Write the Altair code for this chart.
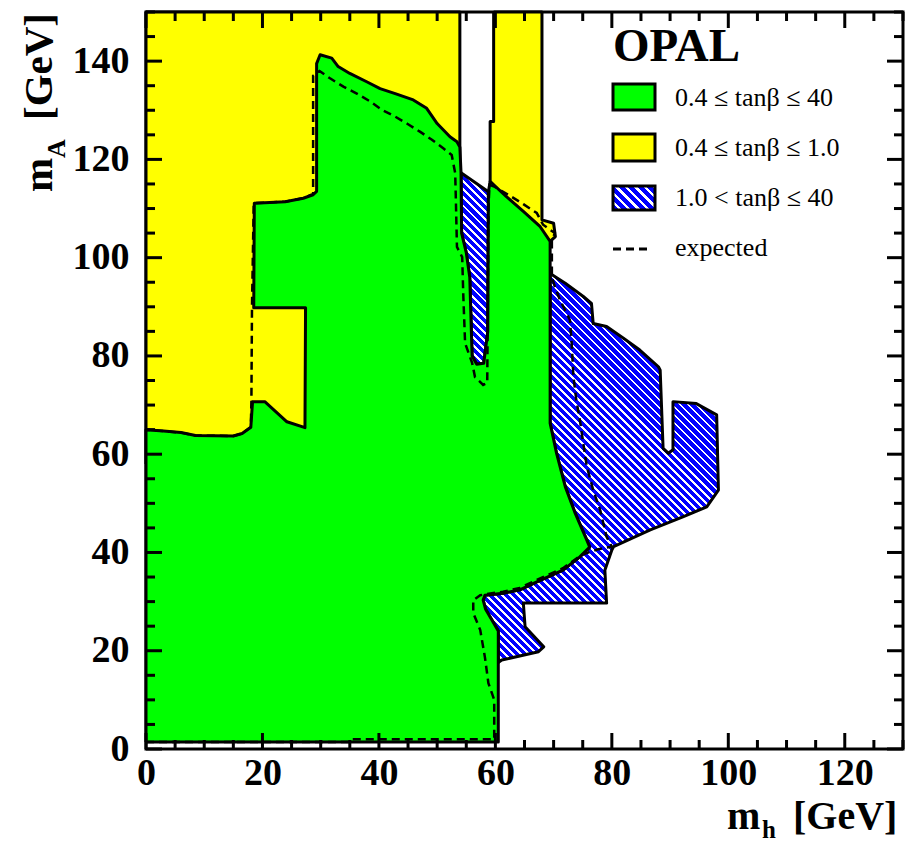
import altair as alt
import pandas as pd

# ---------------- data (GeV) ----------------
X_DOMAIN = [0, 130]
Y_DOMAIN = [0, 150]
X_LABELS = [0, 20, 40, 60, 80, 100, 120]
Y_LABELS = [0, 20, 40, 60, 80, 100, 120, 140]
X_TICKS = list(range(0, 131, 5))
Y_TICKS = list(range(0, 151, 5))

LEGEND_TITLE = "OPAL"
LEGEND_LABELS = ["0.4 \u2264 tan\u03b2 \u2264  40", "0.4 \u2264 tan\u03b2 \u2264 1.0",
                 "1.0 < tan\u03b2 \u2264  40", "expected"]

# yellow: 0.4 <= tanb <= 1.0 (left block and right strip)
yellow_left = [(0, 58), (0, 150), (53.9, 150), (53.9, 118), (27.4, 100), (27.4, 60)]
yellow_right = [(59.7, 150), (68.0, 150), (68.0, 107.7), (70.0, 107.0), (70.3, 104.3),
                (69.4, 103.3), (59.1, 115.5), (59.1, 127.7), (59.7, 127.7)]

# green: 0.4 <= tanb <= 40
green_region = [
    (0, 1.4), (0, 65.0), (3, 64.7), (6, 64.4), (8.5, 63.8), (15, 63.7), (16.5, 64.2),
    (18, 65.5), (18.3, 70.7), (20.4, 70.7), (24.2, 66.6), (27.3, 65.4), (27.4, 89.8),
    (18.5, 89.8), (18.6, 111.1), (23.9, 111.4), (27.0, 112.1), (28.7, 112.8), (29.3, 113.5),
    (29.3, 139.5), (29.9, 141.3), (31.9, 140.6), (33.0, 138.9), (35.0, 137.5), (37.9, 135.8),
    (40.2, 134.4), (42.8, 133.4), (45.9, 132.1), (48.2, 130.4), (50.0, 127.3), (52.2, 124.6),
    (53.4, 123.6), (53.9, 122.5), (54.1, 117.3), (54.2, 105.0), (55.0, 101.0), (55.6, 96.0),
    (56.0, 80.0), (56.8, 78.3), (58.0, 78.5), (58.7, 85.0), (58.8, 113.4), (59.1, 115.5),
    (61.9, 112.4), (64.8, 109.4), (67.7, 106.3), (69.4, 103.3), (69.4, 66.3), (70.5, 60.2),
    (72.0, 53.4), (73.7, 48.0), (75.7, 42.5), (76.2, 41.1), (74.5, 39.1), (71.6, 36.4),
    (67.1, 34.0), (64.2, 32.4), (61.3, 31.7), (58.2, 31.3), (57.9, 30.3), (58.3, 28.5),
    (60.5, 24.0), (60.5, 1.4)]

# blue hatched: 1.0 < tanb <= 40
blue_strip = [(54.1, 117.3), (58.8, 113.4), (58.7, 85.0), (58.0, 78.5), (56.8, 78.3),
              (56.0, 80.0), (55.6, 96.0), (55.0, 101.0), (54.2, 105.0)]
blue_big = [
    (69.4, 96.8), (72.0, 94.8), (75.1, 92.1), (76.5, 90.7), (76.8, 86.6), (79.1, 86.0),
    (82.0, 83.6), (84.8, 81.2), (88.0, 77.8), (88.3, 77.1), (88.8, 61.2), (89.7, 60.2),
    (90.5, 60.9), (90.5, 70.7), (94.5, 70.3), (98.0, 68.0), (98.3, 52.7), (96.3, 49.3),
    (92.3, 47.3), (86.6, 44.6), (80.3, 41.2), (80.0, 40.5), (78.8, 36.4), (79.1, 29.7),
    (64.8, 29.7), (65.1, 24.9), (68.3, 20.8), (67.4, 19.8), (61.1, 18.1), (60.5, 17.6),
    (60.5, 24.0), (58.3, 28.5), (57.9, 30.3), (58.2, 31.3), (61.3, 31.7), (64.2, 32.4),
    (67.1, 34.0), (71.6, 36.4), (74.5, 39.1), (76.2, 41.1), (75.7, 42.5), (73.7, 48.0),
    (72.0, 53.4), (70.5, 60.2), (69.4, 66.3)]

# expected limit (dashed)
expected_limit = [
    (0, 1.4), (35, 1.4), (35.5, 2.0), (59.8, 2.0), (59.8, 10.0), (58.8, 13.4), (58.2, 18.7),
    (57.4, 24.2), (56.2, 27.7), (56.2, 30.3), (57.4, 31.3), (59.4, 31.7), (61.3, 32.0),
    (64.2, 32.8), (67.1, 34.4), (71.6, 36.8), (74.8, 39.5), (77.5, 40.6), (80.0, 41.2),
    (79.1, 43.2), (78.0, 48.6), (76.8, 52.7), (75.7, 57.5), (75.1, 62.2), (74.5, 67.0),
    (73.9, 71.0), (73.4, 75.8), (73.1, 82.6), (72.8, 87.3), (71.1, 91.4), (70.2, 94.1),
    (69.7, 96.1), (69.7, 103.5), (70.2, 105.0), (68.2, 106.7), (67.1, 109.1), (64.8, 110.9),
    (62.5, 112.6), (59.9, 114.4), (59.0, 114.8), (58.8, 110.0), (58.7, 90.0), (58.6, 74.5),
    (57.9, 74.1), (56.5, 75.7), (56.0, 78.6), (54.8, 82.6), (54.5, 92.0), (54.3, 100.1),
    (53.4, 102.2), (53.2, 112.4), (53.1, 117.2), (52.5, 120.9), (51.1, 122.2), (49.1, 124.0),
    (47.1, 125.6), (44.8, 127.3), (42.8, 128.7), (40.5, 130.1), (38.5, 131.8), (36.2, 133.4),
    (33.9, 134.8), (31.6, 136.5), (29.8, 138.0), (28.7, 137.0), (28.7, 113.0), (27.0, 112.1),
    (23.9, 111.4), (18.5, 111.1), (18.2, 89.8), (18.1, 70.7), (18.0, 65.5), (16.5, 64.2),
    (15.0, 63.7), (8.5, 63.8), (6.0, 64.4), (3.0, 64.7), (0, 65.0)]

# ---------------- style / layout ----------------
W, H = 757, 737
FONT = "Liberation Serif"
GREEN, YELLOW, BLUE = "#00ff00", "#ffff00", "#0000ff"

xs = alt.Scale(domain=X_DOMAIN, nice=False, zero=False)
ys = alt.Scale(domain=Y_DOMAIN, nice=False, zero=False)
x_axis = alt.Axis(values=X_LABELS, ticks=False, domain=False, grid=False, labelFlush=False,
                  labelOverlap=False, labelPadding=5, format="d")
y_axis = alt.Axis(values=Y_LABELS, ticks=False, domain=False, grid=False, labelFlush=False,
                  labelOverlap=False, labelPadding=17, format="d")


def X(field):
    return alt.X(field, type="quantitative", scale=xs, axis=x_axis, title=None)


def Y(field):
    return alt.Y(field, type="quantitative", scale=ys, axis=y_axis, title=None)


def path_df(points, close):
    pts = list(points) + ([points[0]] if close else [])
    return pd.DataFrame({"x": [p[0] for p in pts], "y": [p[1] for p in pts],
                         "i": list(range(len(pts)))})


def hatch(w_px, h_px, period=8.0, white_frac=0.36):
    a, b = 1.0 / h_px, 1.0 / w_px
    k = (a + b) / (a * a + b * b)
    n = max(1, int(round((w_px + h_px) / period)))
    stops = []
    for i in range(n):
        o0, o1, o2 = i / n, (i + 1 - white_frac) / n, min(1.0, (i + 1) / n)
        stops += [alt.GradientStop(color=BLUE, offset=o0), alt.GradientStop(color=BLUE, offset=o1),
                  alt.GradientStop(color="white", offset=o1), alt.GradientStop(color="white", offset=o2)]
    return alt.LinearGradient(gradient="linear", stops=stops, x1=0, y1=1, x2=a * k, y2=1 - b * k)


def px_size(points):
    px = [p[0] for p in points]
    py = [p[1] for p in points]
    return ((max(px) - min(px)) * W / (X_DOMAIN[1] - X_DOMAIN[0]),
            (max(py) - min(py)) * H / (Y_DOMAIN[1] - Y_DOMAIN[0]))


def polygon(points, fill):
    return alt.Chart(path_df(points, True)).mark_line(
        fill=fill, stroke="black", strokeWidth=3, strokeJoin="round"
    ).encode(x=X("x"), y=Y("y"), order="i:Q")


layers = [
    polygon(yellow_left, YELLOW),
    polygon(yellow_right, YELLOW),
    polygon(blue_strip, hatch(*px_size(blue_strip))),
    polygon(blue_big, hatch(*px_size(blue_big))),
    polygon(green_region, GREEN),
    alt.Chart(path_df(expected_limit, False)).mark_line(
        stroke="black", strokeWidth=2.5, strokeDash=[8, 5]
    ).encode(x=X("x"), y=Y("y"), order="i:Q"),
]

# inward ticks on all four sides
MAJOR, MINOR = 16, 9
xt = pd.DataFrame({"v": X_TICKS, "major": [v % 20 == 0 for v in X_TICKS]})
yt = pd.DataFrame({"v": Y_TICKS, "major": [v % 20 == 0 for v in Y_TICKS]})
for is_major, L in [(True, MAJOR), (False, MINOR)]:
    cond = "datum.major" if is_major else "!datum.major"
    bx = alt.Chart(xt).transform_filter(cond).mark_rule(color="black", strokeWidth=3)
    by = alt.Chart(yt).transform_filter(cond).mark_rule(color="black", strokeWidth=3)
    layers += [
        bx.encode(x=X("v"), y=alt.value(H), y2=alt.value(H - L)),
        bx.encode(x=X("v"), y=alt.value(0), y2=alt.value(L)),
        by.encode(y=Y("v"), x=alt.value(0), x2=alt.value(L)),
        by.encode(y=Y("v"), x=alt.value(W), x2=alt.value(W - L)),
    ]


def text(t, x, y, size, weight="normal", angle=0, align="left", baseline="alphabetic"):
    return alt.Chart(pd.DataFrame({"t": [t]})).mark_text(
        font=FONT, fontSize=size, fontWeight=weight, angle=angle, align=align,
        baseline=baseline, color="black"
    ).encode(x=alt.value(x), y=alt.value(y), text="t:N")


# axis titles
layers += [
    text("m", 581, 817, 40, "bold"),
    text("h", 616, 826, 25, "bold"),
    text("[GeV]", 647, 817, 40, "bold"),
    text("m", -94, 180, 41, "bold", angle=270),
    text("A", -81, 146, 26, "bold", angle=270),
    text("[GeV]", -94, 108, 41, "bold", angle=270),
]

# legend
one = pd.DataFrame({"k": [0]})
LX0, LX1 = 467, 509
box_rows = [(72, 98, GREEN), (122, 149, YELLOW), (174, 198, None)]
for (y0, y1, col) in box_rows:
    fill = col if col else hatch(LX1 - LX0, y1 - y0, period=9.0)
    layers.append(alt.Chart(one).mark_rect(fill=fill, stroke="black", strokeWidth=3).encode(
        x=alt.value(LX0), x2=alt.value(LX1), y=alt.value(y0), y2=alt.value(y1)))
layers.append(alt.Chart(one).mark_rule(color="black", strokeWidth=3, strokeDash=[8, 5]).encode(
    x=alt.value(LX0), x2=alt.value(505), y=alt.value(237)))
layers.append(text(LEGEND_TITLE, LX0, 49, 47, "bold"))
for lbl, yc in zip(LEGEND_LABELS, [86, 136, 186, 236]):
    layers.append(text(lbl, 529, yc, 26, "normal", baseline="middle"))

chart = alt.layer(*layers).properties(
    width=W, height=H,
    padding={"left": 146, "top": 12, "right": 15, "bottom": 94},
    autosize=alt.AutoSizeParams(type="none"),
).configure_view(stroke="black", strokeWidth=3).configure_axis(
    labelFont=FONT, labelFontSize=38, labelFontWeight="bold", labelColor="black"
)

chart.save("out.html", embed_options={"renderer": "svg", "actions": False})
